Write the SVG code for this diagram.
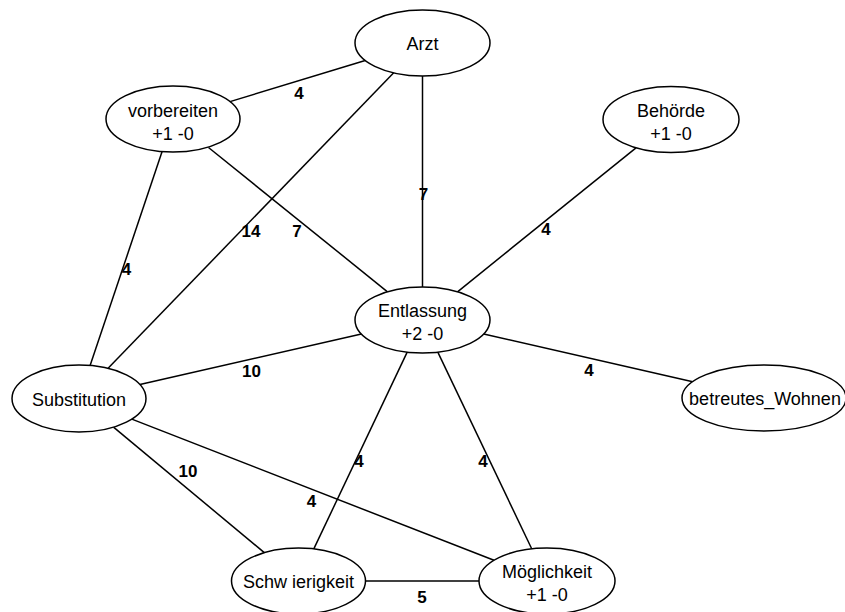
<svg xmlns="http://www.w3.org/2000/svg" width="845" height="612" viewBox="0 0 845 612">
<style>
.bg{fill:#ffffff}
.edge{stroke:#000;stroke-width:1.5;fill:none}
.node ellipse{fill:#ffffff;stroke:#000;stroke-width:1.5}
.nt{font-family:"Liberation Sans",Arial,sans-serif;font-size:18px;fill:#000;text-anchor:middle}
.el{font-family:"Liberation Sans",Arial,sans-serif;font-size:17px;font-weight:bold;fill:#000;text-anchor:middle}
</style>
<rect class="bg" x="0" y="0" width="845" height="612"/>
<g id="connectors">
<line class="edge" x1="365.2" y1="60.5" x2="230" y2="101.6"/>
<line class="edge" x1="422.5" y1="76" x2="422.5" y2="287"/>
<line class="edge" x1="393.7" y1="72.8" x2="108.1" y2="368.3"/>
<line class="edge" x1="208.5" y1="147.5" x2="387.5" y2="291.8"/>
<line class="edge" x1="162.1" y1="151.6" x2="90.1" y2="365.5"/>
<line class="edge" x1="636" y1="147.8" x2="457.5" y2="291.8"/>
<line class="edge" x1="483.7" y1="334" x2="692.7" y2="381.7"/>
<line class="edge" x1="361.4" y1="334" x2="139.9" y2="384.6"/>
<line class="edge" x1="407.2" y1="352.1" x2="313.8" y2="548.9"/>
<line class="edge" x1="437.8" y1="352.1" x2="531.7" y2="548.8"/>
<line class="edge" x1="113.5" y1="427.2" x2="264.3" y2="552.6"/>
<line class="edge" x1="131.8" y1="419.1" x2="494" y2="560.3"/>
<line class="edge" x1="365.5" y1="581" x2="479" y2="581"/>
<text class="el" x="299" y="99">4</text>
<text class="el" x="423.5" y="200">7</text>
<text class="el" x="251" y="237">14</text>
<text class="el" x="297" y="237">7</text>
<text class="el" x="126.5" y="275">4</text>
<text class="el" x="546" y="235">4</text>
<text class="el" x="589" y="376">4</text>
<text class="el" x="251.5" y="377">10</text>
<text class="el" x="359" y="467">4</text>
<text class="el" x="483" y="467">4</text>
<text class="el" x="311.5" y="507">4</text>
<text class="el" x="188" y="477">10</text>
<text class="el" x="422" y="603">5</text>
</g>
<g id="n-arzt" class="node">
<ellipse cx="422.5" cy="43" rx="67.5" ry="33"/>
<text class="nt" x="422.5" y="50">Arzt</text>
</g>
<g id="n-vorbereiten" class="node">
<ellipse cx="173" cy="119" rx="67" ry="33"/>
<text class="nt" x="173" y="117">vorbereiten</text>
<text class="nt" x="173" y="140">+1 -0</text>
</g>
<g id="n-behoerde" class="node">
<ellipse cx="671" cy="119.5" rx="68" ry="33"/>
<text class="nt" x="671" y="117">Behörde</text>
<text class="nt" x="671" y="140">+1 -0</text>
</g>
<g id="n-entlassung" class="node">
<ellipse cx="422.5" cy="320" rx="67.5" ry="33"/>
<text class="nt" x="422.5" y="317">Entlassung</text>
<text class="nt" x="422.5" y="340">+2 -0</text>
</g>
<g id="n-betreutes-wohnen" class="node">
<ellipse cx="764" cy="398" rx="82" ry="33"/>
<text class="nt" x="765" y="405">betreutes_Wohnen</text>
</g>
<g id="n-substitution" class="node">
<ellipse cx="79" cy="398.5" rx="67" ry="33.5"/>
<text class="nt" x="79" y="405.5">Substitution</text>
</g>
<g id="n-schwierigkeit" class="node">
<ellipse cx="298.5" cy="581" rx="67" ry="33"/>
<text class="nt" x="298.5" y="588">Schw ierigkeit</text>
</g>
<g id="n-moeglichkeit" class="node">
<ellipse cx="547" cy="581" rx="68" ry="33"/>
<text class="nt" x="547" y="578">Möglichkeit</text>
<text class="nt" x="547" y="601">+1 -0</text>
</g>
</svg>
